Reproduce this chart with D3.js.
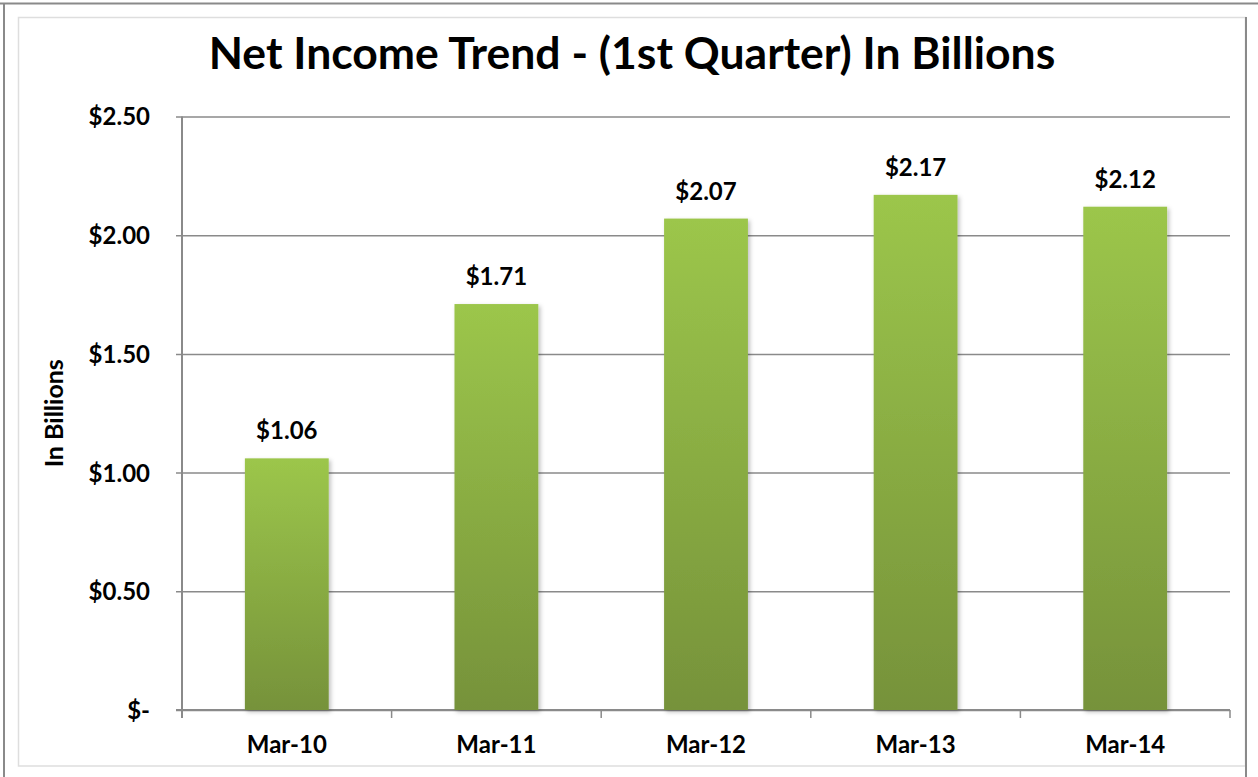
<!DOCTYPE html>
<html lang="en">
<meta charset='utf-8'>
<style>
  body{ margin:0; background:#fff }
  text{ font-family: Lato, 'Open Sans', sans-serif; font-weight:700; fill:#000 }
  .title{ font-size:44.5px; text-anchor:middle }
  .tick text{ font-size:24px }
  .lbl{ font-size:24px; text-anchor:middle }
  .ytitle{ font-size:25px; text-anchor:middle }
</style>
<body>
<script src='https://cdn.jsdelivr.net/npm/d3@7/dist/d3.min.js'></script>
<script>
  var quarters = ['Mar-10', 'Mar-11', 'Mar-12', 'Mar-13', 'Mar-14']
  var income = [1.06, 1.71, 2.07, 2.17, 2.12]
  var yTicks = [0, 0.5, 1.0, 1.5, 2.0, 2.5]

  var W = 1258, H = 777
  var plot = {left:182, right:1230, top:116.5, bottom:710}

  var svg = d3.select('body').append('svg').attr('width', W).attr('height', H)

  // frame like the screenshot: outer grey edge + light chart area border
  svg.append('line').attr('x1', 0).attr('x2', W).attr('y1', 3.5).attr('y2', 3.5)
    .attr('stroke', '#8a8a8a').attr('stroke-width', 2)
  svg.append('line').attr('x1', 4).attr('x2', 4).attr('y1', 3).attr('y2', H)
    .attr('stroke', '#8a8a8a').attr('stroke-width', 2)
  svg.append('rect').attr('x', 18.5).attr('y', 17.5).attr('width', 1227).attr('height', 748.5)
    .attr('fill', '#fff').attr('stroke', '#dedede').attr('stroke-width', 1.5)
  svg.append('line').attr('x1', 1246).attr('x2', 1246).attr('y1', 17).attr('y2', H)
    .attr('stroke', '#8a8a8a').attr('stroke-width', 2)

  var defs = svg.append('defs')
  var grad = defs.append('linearGradient').attr('id', 'barGrad')
    .attr('x1', 0).attr('x2', 0).attr('y1', 0).attr('y2', 1)
  grad.append('stop').attr('offset', '0%').attr('stop-color', '#9cc64b')
  grad.append('stop').attr('offset', '100%').attr('stop-color', '#76923a')
  var shadow = defs.append('filter').attr('id', 'shadow')
    .attr('x', '-10%').attr('y', '-5%').attr('width', '130%').attr('height', '115%')
  shadow.append('feDropShadow').attr('dx', 2).attr('dy', 2).attr('stdDeviation', 2)
    .attr('flood-color', '#000').attr('flood-opacity', 0.25)

  var x = d3.scaleBand().domain(quarters)
    .range([plot.left, plot.right]).paddingInner(0.6).paddingOuter(0.3)
  var y = d3.scaleLinear().domain([0, 2.5]).range([plot.bottom, plot.top])

  // y axis with gridlines
  var yAxis = svg.append('g').attr('transform', 'translate(' + plot.left + ',0)')
    .call(d3.axisLeft(y).tickValues(yTicks).tickSize(6).tickPadding(26)
      .tickFormat(d => d === 0 ? '$-' : '$' + d3.format('.2f')(d)))
  yAxis.selectAll('.tick line').attr('x1', -6).attr('x2', plot.right - plot.left)
    .attr('stroke', '#8a8a8a').attr('stroke-width', 1.5)
  yAxis.selectAll('.tick text').attr('dy', '0.35em')

  // x axis: category labels + boundary ticks
  var step = x.step()
  var bounds = quarters.map(q => x(q) - step * 0.3).concat([plot.right])
  var xAxis = svg.append('g').attr('transform', 'translate(0,' + plot.bottom + ')')
    .call(d3.axisBottom(x).tickSize(0).tickPadding(26))
  xAxis.selectAll('.tick text').attr('dy', '0.71em')
  xAxis.selectAll('.bound').data(bounds).enter().append('line').attr('class', 'bound')
    .attr('x1', d => d).attr('x2', d => d).attr('y1', 0).attr('y2', 8)
    .attr('stroke', '#8a8a8a').attr('stroke-width', 1.5)
  svg.selectAll('.domain').attr('d', null)
  svg.append('line').attr('x1', plot.left).attr('x2', plot.left).attr('y1', plot.top).attr('y2', plot.bottom + 8)
    .attr('stroke', '#8a8a8a').attr('stroke-width', 2)
  svg.append('line').attr('x1', plot.left - 6).attr('x2', plot.right).attr('y1', plot.bottom).attr('y2', plot.bottom)
    .attr('stroke', '#8a8a8a').attr('stroke-width', 2)

  // bars
  svg.selectAll('.bar').data(income).enter().append('rect').attr('class', 'bar')
    .attr('x', (d, i) => x(quarters[i]))
    .attr('width', x.bandwidth())
    .attr('y', d => y(d))
    .attr('height', d => y(0) - y(d))
    .attr('fill', 'url(#barGrad)')
    .attr('filter', 'url(#shadow)')

  svg.selectAll('.lbl').data(income).enter().append('text').attr('class', 'lbl')
    .attr('x', (d, i) => x(quarters[i]) + x.bandwidth() / 2)
    .attr('y', d => y(d) - 19)
    .text(d => '$' + d3.format('.2f')(d))

  svg.append('text').attr('class', 'title').attr('x', 632).attr('y', 69)
    .text('Net Income Trend - (1st Quarter) In Billions')

  svg.append('text').attr('class', 'ytitle')
    .attr('transform', 'translate(63,' + ((plot.top + plot.bottom) / 2) + ') rotate(-90)')
    .text('In Billions')
</script>
</body>
</html>
